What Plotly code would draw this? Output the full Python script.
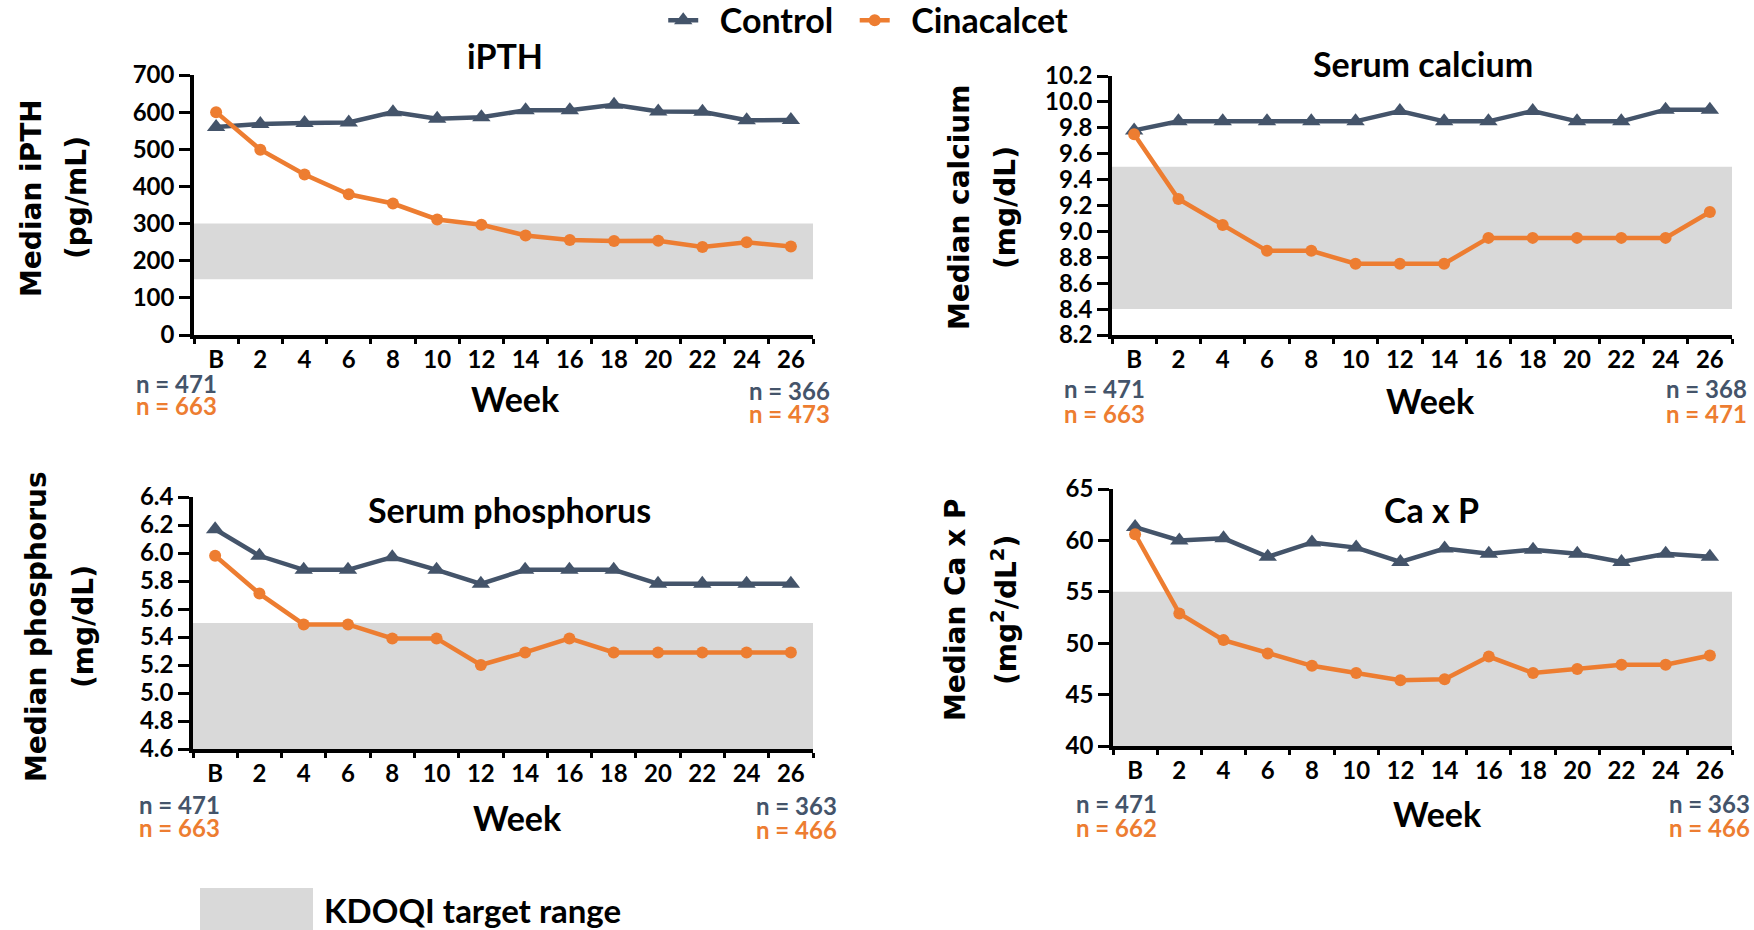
import plotly.graph_objects as go

W, H = 1754, 930

weeks = ["B", "2", "4", "6", "8", "10", "12", "14", "16", "18", "20", "22", "24", "26"]

# Median values by visit week
ipth_control = [560, 568, 571, 572, 600, 582, 586, 605, 605, 620, 602, 601, 578, 579]
ipth_cinacalcet = [600, 499, 432, 379, 354, 311, 297, 268, 256, 253, 254, 237, 250, 238]

calcium_control = [9.78, 9.85, 9.85, 9.85, 9.85, 9.85, 9.93, 9.85, 9.85, 9.93, 9.85, 9.85, 9.94, 9.94]
calcium_cinacalcet = [9.75, 9.25, 9.05, 8.85, 8.85, 8.75, 8.75, 8.75, 8.95, 8.95, 8.95, 8.95, 8.95, 9.15]

phos_control = [6.17, 5.98, 5.88, 5.88, 5.97, 5.88, 5.78, 5.88, 5.88, 5.88, 5.78, 5.78, 5.78, 5.78]
phos_cinacalcet = [5.98, 5.71, 5.49, 5.49, 5.39, 5.39, 5.20, 5.29, 5.39, 5.29, 5.29, 5.29, 5.29, 5.29]

caxp_control = [61.3, 60.0, 60.2, 58.4, 59.8, 59.3, 57.9, 59.2, 58.7, 59.1, 58.7, 57.9, 58.7, 58.4]
caxp_cinacalcet = [60.6, 52.9, 50.3, 49.0, 47.8, 47.1, 46.4, 46.5, 48.7, 47.1, 47.5, 47.9, 47.9, 48.8]

# KDOQI target ranges (None = extends to bottom of axis)
target_ipth = [150, 300]
target_calcium = [8.4, 9.5]
target_phos = [None, 5.5]
target_caxp = [None, 55]

# Patients at baseline / week 26: (control, cinacalcet)
n_ipth = [(471, 663), (366, 473)]
n_calcium = [(471, 663), (368, 471)]
n_phos = [(471, 663), (363, 466)]
n_caxp = [(471, 662), (363, 466)]

CONTROL = "#44546A"
CINA = "#ED7D31"
BAND = "#D9D9D9"
TXT_FONT = "Lato"
AX_FONT = "DejaVu Sans"
NBSP = "\u00a0"


def px(x):
    return x / W


def py(y):
    return 1 - y / H


panels = [
    dict(title="iPTH", ytitle=["Median iPTH", "(pg/mL)"], ctrl=ipth_control, cina=ipth_cinacalcet,
         band=target_ipth, n=n_ipth, yrange=[0, 700], dtick=100, fmt="d",
         box=(194, 813, 75, 335), title_xy=(505, 56), ytitle_x=(31, 76), ytitle_y=198,
         week_xy=(515, 398), nl=(176, 384, 406), nr=(789, 390, 413)),
    dict(title="Serum calcium", ytitle=["Median calcium", "(mg/dL)"], ctrl=calcium_control,
         cina=calcium_cinacalcet, band=target_calcium, n=n_calcium, yrange=[8.2, 10.2], dtick=0.2,
         fmt=".1f", box=(1112, 1732, 76, 335), title_xy=(1423, 63), ytitle_x=(960, 1006),
         ytitle_y=208, week_xy=(1430, 400), nl=(1104, 389, 413), nr=(1706, 389, 413)),
    dict(title="Serum phosphorus", ytitle=["Median phosphorus", "(mg/dL)"], ctrl=phos_control,
         cina=phos_cinacalcet, band=target_phos, n=n_phos, yrange=[4.6, 6.4], dtick=0.2,
         fmt=".1f", box=(193, 813, 497, 749), title_xy=(509, 510), ytitle_x=(36, 83),
         ytitle_y=627, week_xy=(517, 817), nl=(179, 804, 827), nr=(796, 805, 829)),
    dict(title="Ca x P", ytitle=["Median Ca x P", "(mg<sup>2</sup>/dL<sup>2</sup>)"],
         ctrl=caxp_control, cina=caxp_cinacalcet, band=target_caxp, n=n_caxp, yrange=[40, 65],
         dtick=5, fmt="d", box=(1113, 1732, 489, 746), title_xy=(1431, 509),
         ytitle_x=(955, 1004), ytitle_y=610, week_xy=(1437, 813), nl=(1116, 803, 827),
         nr=(1709, 803, 827)),
]

fig = go.Figure()
shapes = []
annotations = []

for i, p in enumerate(panels, start=1):
    xa = "x" if i == 1 else f"x{i}"
    ya = "y" if i == 1 else f"y{i}"
    x0, x1, ytop, ybot = p["box"]

    fig.add_trace(go.Scatter(
        x=weeks, y=p["ctrl"], xaxis=xa, yaxis=ya, mode="lines+markers",
        name=NBSP * 2 + "Control" + NBSP * 2,
        line=dict(color=CONTROL, width=4.5),
        marker=dict(symbol="triangle-up", size=16, color=CONTROL),
        showlegend=(i == 1), legendrank=1))
    fig.add_trace(go.Scatter(
        x=weeks, y=p["cina"], xaxis=xa, yaxis=ya, mode="lines+markers",
        name=NBSP * 2 + "Cinacalcet",
        line=dict(color=CINA, width=4.5),
        marker=dict(symbol="circle", size=12, color=CINA),
        showlegend=(i == 1), legendrank=2))

    lo, hi = p["band"]
    if lo is None:
        lo = p["yrange"][0]
    shapes.append(dict(type="rect", xref=f"{xa} domain", yref=ya, x0=0, x1=1, y0=lo, y1=hi,
                       fillcolor=BAND, line=dict(width=0), layer="below"))

    axis_common = dict(showline=True, linecolor="black", linewidth=3.5, ticks="outside",
                       tickcolor="black", tickwidth=3, showgrid=False, zeroline=False,
                       automargin=False,
                       tickfont=dict(family=TXT_FONT, size=24, color="black", weight="bold"))
    fig.update_layout(**{
        ("xaxis" if i == 1 else f"xaxis{i}"): dict(
            domain=[px(x0), px(x1)], anchor=ya, type="category", range=[-0.5, 13.5],
            tickson="boundaries", ticklen=5, **axis_common),
        ("yaxis" if i == 1 else f"yaxis{i}"): dict(
            domain=[py(ybot), py(ytop)], anchor=xa, range=p["yrange"], dtick=p["dtick"],
            tick0=p["yrange"][0], tickformat=p["fmt"], ticklen=11, **axis_common),
    })

    tx, ty = p["title_xy"]
    annotations.append(dict(text=p["title"], x=px(tx), y=py(ty), xref="paper", yref="paper",
                            showarrow=False, xanchor="center", yanchor="middle",
                            font=dict(family=TXT_FONT, size=34, color="black", weight="bold")))
    for line_text, lx in zip(p["ytitle"], p["ytitle_x"]):
        annotations.append(dict(text=line_text, x=px(lx), y=py(p["ytitle_y"]), xref="paper",
                                yref="paper", showarrow=False, textangle=-90,
                                xanchor="center", yanchor="middle",
                                font=dict(family=AX_FONT, size=28, color="black", weight="bold")))
    wx, wy = p["week_xy"]
    annotations.append(dict(text="Week", x=px(wx), y=py(wy), xref="paper", yref="paper",
                            showarrow=False, xanchor="center", yanchor="middle",
                            font=dict(family=TXT_FONT, size=34, color="black", weight="bold")))
    for (nx, ny1, ny2), (nc, nk) in zip((p["nl"], p["nr"]), p["n"]):
        for val, yy, col in ((nc, ny1, CONTROL), (nk, ny2, CINA)):
            annotations.append(dict(text=f"n = {val}", x=px(nx), y=py(yy), xref="paper",
                                    yref="paper", showarrow=False, xanchor="center",
                                    yanchor="middle",
                                    font=dict(family=TXT_FONT, size=24, color=col,
                                              weight="bold")))

# KDOQI target range key
shapes.append(dict(type="rect", xref="paper", yref="paper", x0=px(200), x1=px(313),
                   y0=py(930), y1=py(888), fillcolor=BAND, line=dict(width=0)))
annotations.append(dict(text="KDOQI target range", x=px(322), y=py(910), xref="paper",
                        yref="paper", showarrow=False, xanchor="left", yanchor="middle",
                        font=dict(family=TXT_FONT, size=33, color="black", weight="bold")))

fig.update_layout(
    width=W, height=H, margin=dict(l=0, r=0, t=0, b=0, autoexpand=False),
    paper_bgcolor="white", plot_bgcolor="white",
    shapes=shapes, annotations=annotations,
    legend=dict(orientation="h", x=0.495, xanchor="center", y=1.009, yanchor="top",
                font=dict(family=TXT_FONT, size=34, color="black", weight="bold"),
                itemwidth=30, bgcolor="rgba(0,0,0,0)", traceorder="normal"),
)

fig.write_html("out.html")
